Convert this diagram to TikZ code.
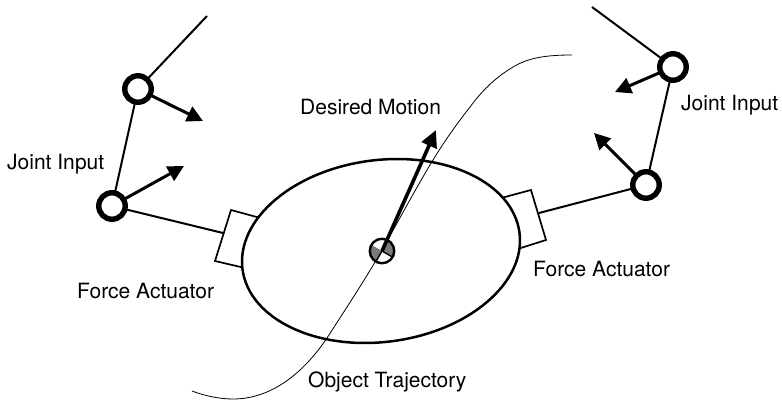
\documentclass[tikz,border=0pt]{standalone}
\usepackage{fontspec}
\setmainfont{TeX Gyre Heros}
\usetikzlibrary{arrows.meta}
\tikzset{
 lbl/.style={inner sep=0pt,font=\fontsize{21}{24}\selectfont},
 joint/.style={circle,draw=black,fill=white,line width=5.4pt,minimum size=26.5pt,inner sep=0pt},
 linkline/.style={line width=2pt},
 arm/.style={line width=3pt,-{Triangle[length=16pt,width=16pt]}},
 act/.style={draw=black,fill=white,line width=1.7pt},
 bodyshape/.style={draw=black,line width=2.5pt,fill=white},
 traj/.style={line width=0.8pt},
}
\begin{document}
\begin{tikzpicture}[x=1pt,y=-1pt]
\useasboundingbox (0,0) rectangle (782,401);
% actuators
\coordinate (lA) at (231,210);
\coordinate (lB) at (215,261);
\coordinate (lC) at (262,272);
\coordinate (lD) at (275,222);
\coordinate (rA) at (531,190);
\coordinate (rB) at (546,240);
\coordinate (rC) at (505,253);
\coordinate (rD) at (490,201);
\draw[act] (lA) -- (lB) -- (lC) -- (lD) -- cycle;
\draw[act] (rA) -- (rB) -- (rC) -- (rD) -- cycle;
% body
\coordinate (bodyC) at (381,251);
\draw[bodyshape] (bodyC) circle [x radius=139.7pt, y radius=90.9pt, rotate=7.6];
% trajectory
\coordinate (trS) at (192,391);
\coordinate (trE) at (572,55);
\coordinate (trM) at (382,250);
\draw[traj] (trS) .. controls (205,396) and (220,399) .. (233,399)
  .. controls (270,399) and (302,375) .. (327,338)
  .. controls (345,310) and (365,280) .. (trM)
  .. controls (400,218) and (415,190) .. (430,165)
  .. controls (443,143) and (456,125) .. (470,107)
  .. controls (484,88) and (498,76) .. (513,67)
  .. controls (528,58) and (545,55) .. (trE);
% joints and links
\coordinate (lT) at (207,16);
\coordinate (rT) at (592,7);
\coordinate (lAm) at (223,233);
\coordinate (rAm) at (539,213);
\coordinate (jluC) at (138,89);
\coordinate (jllC) at (112,206);
\coordinate (jruC) at (673,67);
\coordinate (jrlC) at (646,185);
\coordinate (alu) at (203,121);
\coordinate (all) at (184,166);
\coordinate (aru) at (615,92);
\coordinate (arl) at (594,133);
\draw[linkline] (jluC) -- (lT);
\draw[linkline] (jluC) -- (jllC);
\draw[linkline] (jllC) -- (lAm);
\draw[linkline] (jruC) -- (rT);
\draw[linkline] (jruC) -- (jrlC);
\draw[linkline] (jrlC) -- (rAm);
\draw[arm] (jluC) -- (alu);
\draw[arm] (jllC) -- (all);
\draw[arm] (jruC) -- (aru);
\draw[arm] (jrlC) -- (arl);
\node[joint] (jlu) at (jluC) {};
\node[joint] (jll) at (jllC) {};
\node[joint] (jru) at (jruC) {};
\node[joint] (jrl) at (jrlC) {};
% centre
\coordinate (cenC) at (382,251);
\fill[black!52] (cenC) -- ++(150:12.5pt) arc[start angle=150,end angle=240,radius=12.5pt] -- cycle;
\fill[black!52] (cenC) -- ++(-30:12.5pt) arc[start angle=-30,end angle=60,radius=12.5pt] -- cycle;
\draw[line width=1.4pt] (cenC) -- ++(240:12.5pt);
\draw[line width=1.4pt] (cenC) -- ++(-30:12.5pt);
\node[circle,draw=black,line width=2.4pt,minimum size=24.5pt,inner sep=0pt] (cen) at (cenC) {};
\coordinate (dm) at (436,130);
\draw[line width=3.6pt,-{Triangle[length=17pt,width=16pt]}] (cen.center) -- (dm);
% labels
\node[lbl,anchor=west] (t1) at (7,164) {Joint Input};
\node[lbl,anchor=west] (t2) at (681,105) {Joint Input};
\node[lbl,anchor=west] (t3) at (300,107) {Desired Motion};
\node[lbl,anchor=west] (t4) at (77,291) {Force Actuator};
\node[lbl,anchor=west] (t5) at (533,269) {Force Actuator};
\node[lbl,anchor=west] (t6) at (308,382) {Object Trajectory};
\end{tikzpicture}
\end{document}
